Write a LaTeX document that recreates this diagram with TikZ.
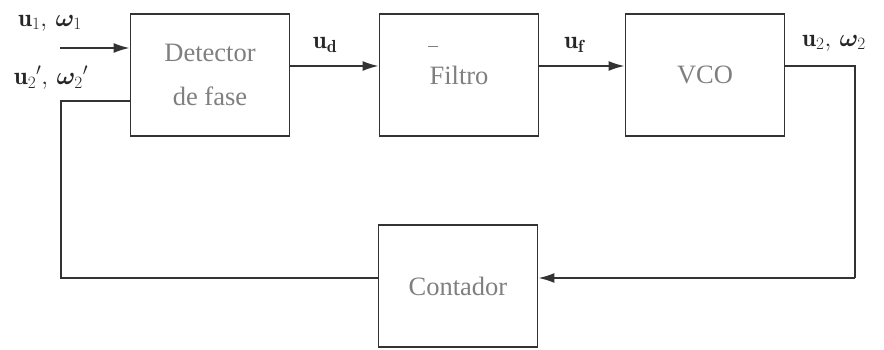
\documentclass[tikz,border=0pt]{standalone}
\usepackage{amsmath,bm}
\usepackage{fontspec}
\newfontfamily\boxfont{Liberation Serif}
\usetikzlibrary{arrows.meta,calc}
\definecolor{ln}{HTML}{333333}
\definecolor{tx}{HTML}{7F7F7F}
\tikzset{
  blk/.style={draw=ln, line width=1.8pt, minimum width=159pt, minimum height=122pt, inner sep=0pt,
    font=\boxfont\fontsize{26.5}{44}\selectfont, text=tx, align=center},
  wire/.style={draw=ln, line width=1.8pt},
  arr/.style={wire, -{Latex[length=16pt,width=10pt]}},
  lab/.style={font=\fontsize{25}{28}\selectfont, text=black!85, inner sep=0pt}
}
\begin{document}
\begin{tikzpicture}[x=1pt,y=-1pt]
\useasboundingbox (0,0) rectangle (884,349);
\node[blk] (det) at (210,75) {Detector\\de fase};
\node[blk] (fil) at (459,75) {Filtro};
\node[blk] (vco) at (705,75) {VCO};
\node[blk] (cnt) at (458,286) {Contador};
\coordinate (in) at (60,48);
\coordinate (fb) at (61,101);
\coordinate (ya) at (0,66);
\coordinate (out) at (855,66);
\coordinate (rb) at (855,278);
\coordinate (lb) at (61,278);
\draw[arr] (in) -- (in -| det.west);
\draw[arr] (det.east |- ya) -- (fil.west |- ya);
\draw[arr] (fil.east |- ya) -- (vco.west |- ya);
\draw[wire] (vco.east |- out) -- (out) -- (rb);
\draw[arr] (rb) -- (rb -| cnt.east);
\draw[wire] (lb -| cnt.west) -- (lb) -- (fb) -- (fb -| det.west);
\draw[tx, line width=0.8pt] (428,46) -- (438,46);
\node[lab] (l1) at (50,23) {$\mathbf{u}_1,\,\bm{\omega}_1$};
\node[lab] (l2) at (51,78) {$\mathbf{u}_2{}',\,\bm{\omega}_2{}'$};
\node[lab] (ld) at (325,45) {$\mathbf{u}_\mathbf{d}$};
\node[lab] (lf) at (574,45) {$\mathbf{u}_\mathbf{f}$};
\node[lab, anchor=west] (lo) at (802,43) {$\mathbf{u}_2,\,\bm{\omega}_2$};
\end{tikzpicture}
\end{document}
